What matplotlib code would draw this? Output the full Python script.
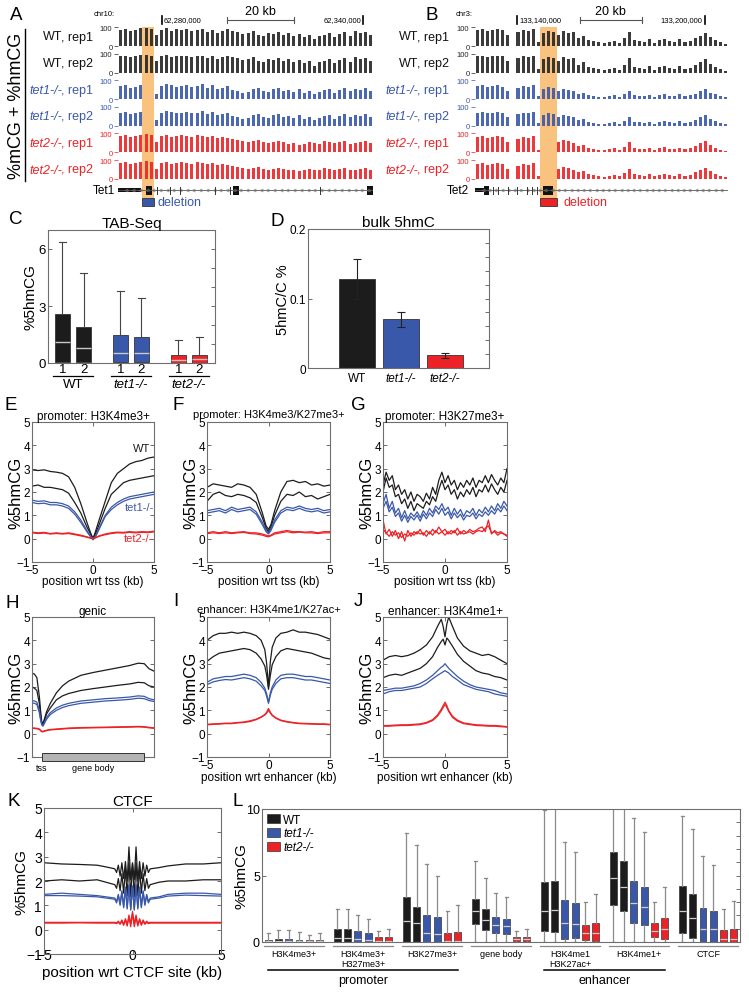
import numpy as np
import matplotlib
matplotlib.use("Agg")
import matplotlib.pyplot as plt
from matplotlib.patches import Rectangle

plt.rcParams['font.family'] = ['Liberation Sans', 'DejaVu Sans']

# --- CONFIGURATION ---
W, H = 749, 995
BLACK = '#1c1c1c'
BLUE = '#3a58aa'
RED = '#ec2227'
ORANGE = '#f9c27f'
SPINE = '#6e6e6e'

# --- A/B: browser tracks (%mCG + %hmCG, 50 bins per locus) ---
tet1_locus = (62267.0, 62343.0)
tet1_wt = [85, 90, 80, 85, 95, 95, 90, 60, 85, 95, 80, 90, 85, 90, 80, 85, 90, 75, 85, 70,
           80, 90, 80, 75, 65, 70, 80, 60, 55, 70, 65, 75, 60, 70, 55, 65, 50, 60, 35, 55,
           60, 70, 50, 65, 75, 55, 80, 70, 75, 60]
tet1_ko1 = [70, 75, 60, 65, 75, 0, 0, 30, 70, 80, 75, 65, 70, 75, 65, 70, 80, 60, 75, 55,
            60, 70, 50, 45, 35, 40, 55, 60, 45, 40, 55, 60, 45, 50, 40, 55, 35, 45, 30, 40,
            50, 55, 35, 50, 60, 45, 55, 50, 60, 45]
tet1_ko2 = [85, 90, 80, 85, 90, 95, 90, 55, 85, 90, 80, 85, 90, 85, 80, 90, 85, 80, 85, 75,
            80, 75, 70, 65, 60, 55, 60, 65, 55, 50, 55, 60, 55, 45, 50, 40, 45, 55, 50, 45,
            60, 55, 50, 55, 60, 45, 50, 55, 60, 50]
tet1_highlight = (62274.2, 62277.6)
tet1_utr = (62267.0, 62274.0)
tet1_exons = [(62275.3, 1.8), (62301.3, 1.8), (62341.2, 1.8)]
tet1_exon_ticks = [62278.6, 62282.5, 62285.5, 62295.9, 62300.4, 62327.2]
tet1_marks = [62280, 62340]
tet1_scale = (62299.5, 62319.5)

tet2_locus = (133126.6, 133207.4)
tet2_wt = [85, 90, 80, 85, 90, 85, 60, 0, 75, 85, 80, 90, 20, 70, 80, 75, 60, 80, 70, 75,
           40, 55, 30, 25, 20, 15, 20, 25, 15, 40, 75, 30, 25, 20, 35, 15, 30, 35, 25, 20,
           35, 20, 25, 40, 55, 70, 45, 30, 20, 10]
tet2_ko1 = [70, 75, 65, 70, 75, 65, 45, 0, 60, 70, 65, 75, 15, 55, 65, 60, 45, 55, 50, 45,
            30, 35, 20, 15, 12, 10, 15, 20, 12, 25, 45, 20, 18, 15, 22, 12, 20, 25, 18, 15,
            25, 15, 20, 30, 45, 55, 35, 25, 15, 10]
tet2_ko2 = [80, 85, 75, 80, 85, 80, 55, 0, 70, 80, 75, 85, 15, 0, 0, 0, 55, 65, 60, 50,
            35, 40, 25, 20, 15, 12, 18, 22, 15, 30, 55, 25, 20, 18, 25, 15, 22, 28, 20, 18,
            25, 18, 22, 35, 50, 60, 40, 25, 15, 10]
tet2_highlight = (133147.4, 133152.8)
tet2_utr = (133126.6, 133129.8)
tet2_exons = [(133129.5, 1.6), (133148.3, 3.2)]
tet2_exon_ticks = [133132.4, 133134.0, 133137.0, 133140.0, 133143.2, 133144.8, 133146.4]
tet2_marks = [133140, 133200]
tet2_scale = (133160, 133180)

track_labels = [("WT", ", rep1"), ("WT", ", rep2"), ("tet1-/-", ", rep1"),
                ("tet1-/-", ", rep2"), ("tet2-/-", ", rep1"), ("tet2-/-", ", rep2")]

# --- C: TAB-Seq boxes ---
tab_groups = ["WT", "tet1-/-", "tet2-/-"]
tab_q1 = [0.05, 0.05, 0.03, 0.03, 0.0, 0.0]
tab_med = [1.1, 0.8, 0.55, 0.55, 0.15, 0.2]
tab_q3 = [2.6, 1.9, 1.45, 1.35, 0.4, 0.4]
tab_whi = [6.35, 4.75, 3.8, 3.4, 1.2, 1.35]

# --- D: bulk 5hmC ---
bulk_labels = ["WT", "tet1-/-", "tet2-/-"]
bulk_mean = [0.128, 0.070, 0.018]
bulk_err = [0.029, 0.011, 0.004]

# --- E/F/I/J: profiles around tss / enhancer ---
tss_pos = [-5, -4.5, -4, -3.5, -3, -2.5, -2, -1.5, -1, -0.5, -0.2, 0, 0.2, 0.5,
           1, 1.5, 2, 2.5, 3, 3.5, 4, 4.5, 5]
e_wt1 = [2.95, 2.92, 2.95, 2.88, 2.85, 2.8, 2.65, 2.2, 1.5, 0.7, 0.25, 0.0, 0.3, 0.8, 1.6, 2.4, 2.8, 3.0, 3.2, 3.3, 3.35, 3.45, 3.5]
e_wt2 = [2.25, 2.3, 2.2, 2.2, 2.15, 2.1, 1.95, 1.55, 1.1, 0.5, 0.2, 0.0, 0.2, 0.6, 1.3, 1.9, 2.15, 2.4, 2.5, 2.55, 2.6, 2.65, 2.7]
e_tet1a = [1.65, 1.6, 1.62, 1.55, 1.55, 1.5, 1.4, 1.15, 0.8, 0.35, 0.1, -0.03, 0.1, 0.45, 1.0, 1.35, 1.55, 1.7, 1.8, 1.85, 1.9, 1.95, 2.0]
e_tet1b = [1.55, 1.5, 1.52, 1.45, 1.45, 1.4, 1.3, 1.05, 0.7, 0.3, 0.08, -0.05, 0.08, 0.4, 0.95, 1.25, 1.45, 1.6, 1.7, 1.75, 1.8, 1.85, 1.9]
e_tet2a = [0.28, 0.25, 0.27, 0.22, 0.25, 0.22, 0.25, 0.2, 0.15, 0.08, 0.03, 0.02, 0.05, 0.12, 0.2, 0.25, 0.28, 0.27, 0.3, 0.28, 0.3, 0.29, 0.32]
e_tet2b = [0.25, 0.22, 0.24, 0.2, 0.22, 0.2, 0.22, 0.17, 0.12, 0.06, 0.02, 0.0, 0.03, 0.1, 0.17, 0.22, 0.25, 0.24, 0.27, 0.25, 0.27, 0.26, 0.29]

f_wt1 = [2.2, 2.35, 2.3, 2.25, 2.2, 2.35, 2.3, 2.2, 1.9, 1.1, 0.55, 0.4, 0.6, 1.2, 2.0, 2.45, 2.5, 2.4, 2.45, 2.3, 2.35, 2.25, 2.3]
f_wt2 = [1.6, 1.9, 2.0, 1.85, 1.8, 1.9, 1.85, 1.75, 1.55, 0.9, 0.45, 0.3, 0.5, 1.0, 1.6, 1.9, 1.85, 2.0, 1.8, 1.85, 1.7, 1.8, 1.9]
f_tet1a = [1.2, 1.25, 1.3, 1.2, 1.35, 1.25, 1.3, 1.35, 1.15, 0.7, 0.35, 0.25, 0.4, 0.8, 1.2, 1.35, 1.3, 1.4, 1.3, 1.25, 1.3, 1.2, 1.25]
f_tet1b = [1.1, 1.15, 1.2, 1.1, 1.25, 1.15, 1.2, 1.25, 1.05, 0.6, 0.3, 0.2, 0.35, 0.7, 1.1, 1.25, 1.2, 1.3, 1.2, 1.15, 1.2, 1.1, 1.15]
f_tet2a = [0.25, 0.3, 0.25, 0.3, 0.25, 0.28, 0.3, 0.25, 0.25, 0.2, 0.15, 0.12, 0.15, 0.25, 0.3, 0.35, 0.3, 0.3, 0.28, 0.3, 0.25, 0.3, 0.3]
f_tet2b = [0.22, 0.25, 0.22, 0.25, 0.22, 0.25, 0.27, 0.22, 0.2, 0.15, 0.1, 0.08, 0.12, 0.2, 0.25, 0.3, 0.25, 0.28, 0.25, 0.25, 0.22, 0.25, 0.25]

g_pos = [-5, -4.75, -4.5, -4.25, -4, -3.75, -3.5, -3.25, -3, -2.75, -2.5, -2.25, -2, -1.75,
         -1.5, -1.25, -1, -0.75, -0.5, -0.25, 0, 0.25, 0.5, 0.75, 1, 1.25, 1.5, 1.75, 2,
         2.25, 2.5, 2.75, 3, 3.25, 3.5, 3.75, 4, 4.25, 4.5, 4.75, 5]
g_wt1 = [2.3, 2.85, 2.5, 2.7, 2.1, 2.3, 1.9, 2.1, 1.7, 2.0, 1.6, 1.9, 1.8, 1.6, 1.95, 1.7, 2.2, 1.9, 2.5, 2.85,
         2.4, 2.7, 2.3, 2.5, 2.1, 2.4, 2.2, 2.5, 2.3, 2.6, 2.2, 2.5, 2.4, 2.7, 2.4, 2.75, 2.5, 2.3, 2.6, 2.4, 3.0]
g_wt2 = [2.0, 2.6, 2.2, 2.3, 1.8, 1.9, 1.5, 1.7, 1.3, 1.6, 1.2, 1.5, 1.4, 1.3, 1.6, 1.45, 1.8, 1.6, 2.1, 2.5,
         2.1, 2.3, 1.9, 2.1, 1.7, 2.0, 1.8, 2.1, 1.9, 2.2, 1.8, 2.1, 2.0, 2.3, 2.0, 2.35, 2.1, 1.9, 2.2, 2.0, 2.5]
g_tet1a = [1.5, 1.9, 1.3, 1.6, 1.1, 1.3, 0.9, 1.2, 0.85, 1.1, 0.95, 1.15, 0.9, 1.2, 1.0, 1.3, 1.1, 1.4, 1.25, 1.5,
           1.2, 1.35, 1.0, 1.3, 1.05, 1.25, 0.95, 1.2, 1.1, 1.3, 1.0, 1.25, 1.1, 1.35, 1.15, 1.4, 1.2, 1.5, 1.3, 1.6, 1.4]
g_tet1b = [1.3, 1.6, 1.15, 1.35, 0.95, 1.1, 0.75, 1.0, 0.7, 0.95, 0.8, 1.0, 0.75, 1.05, 0.85, 1.1, 0.95, 1.25, 1.05, 1.3,
           1.0, 1.15, 0.85, 1.1, 0.9, 1.05, 0.8, 1.0, 0.95, 1.1, 0.85, 1.05, 0.95, 1.15, 1.0, 1.2, 1.05, 1.3, 1.15, 1.4, 1.2]
g_tet2a = [0.8, 0.2, 0.4, 0.1, 0.35, 0.0, 0.3, -0.1, 0.35, 0.1, 0.3, 0.2, 0.4, 0.15, 0.35, 0.2, 0.4, 0.25, 0.5, 0.3,
           0.4, 0.2, 0.35, 0.25, 0.45, 0.2, 0.35, 0.25, 0.4, 0.3, 0.35, 0.45, 0.5, 0.3, 0.8, 0.2, 0.35, 0.25, 0.3, 0.2, 0.15]
g_tet2b = [0.4, 0.25, 0.1, 0.3, 0.15, 0.25, 0.05, 0.2, 0.1, 0.25, 0.15, 0.3, 0.2, 0.25, 0.1, 0.3, 0.15, 0.35, 0.2, 0.3,
           0.15, 0.3, 0.2, 0.35, 0.15, 0.3, 0.2, 0.25, 0.3, 0.2, 0.3, 0.35, 0.3, 0.45, 0.55, 0.25, 0.3, 0.15, 0.25, 0.2, 0.1]

# H: genic, x is fraction of the metagene (tss at 0.082, gene end at 0.915)
gene_pos = [0, 0.02, 0.04, 0.06, 0.07, 0.08, 0.09, 0.1, 0.12, 0.15, 0.2, 0.25, 0.3, 0.4,
            0.5, 0.6, 0.7, 0.8, 0.87, 0.92, 0.96, 1.0]
gene_body = (0.082, 0.915)
h_wt1 = [2.6, 2.55, 2.4, 1.6, 1.0, 0.5, 0.45, 0.6, 0.95, 1.3, 1.75, 2.05, 2.25, 2.5, 2.62, 2.72, 2.82, 2.92, 3.02, 3.0, 2.78, 2.68]
h_wt2 = [2.0, 1.95, 1.85, 1.3, 0.8, 0.45, 0.4, 0.55, 0.85, 1.1, 1.45, 1.62, 1.72, 1.85, 1.93, 2.0, 2.07, 2.13, 2.2, 2.18, 2.05, 2.0]
h_tet1a = [1.42, 1.4, 1.35, 1.0, 0.65, 0.4, 0.35, 0.45, 0.7, 0.9, 1.1, 1.22, 1.3, 1.4, 1.45, 1.5, 1.53, 1.57, 1.62, 1.6, 1.5, 1.45]
h_tet1b = [1.32, 1.3, 1.25, 0.9, 0.6, 0.37, 0.32, 0.42, 0.62, 0.82, 1.0, 1.12, 1.2, 1.3, 1.35, 1.4, 1.43, 1.47, 1.52, 1.5, 1.42, 1.38]
h_tet2a = [0.25, 0.24, 0.23, 0.2, 0.15, 0.1, 0.1, 0.12, 0.15, 0.18, 0.2, 0.22, 0.24, 0.26, 0.27, 0.28, 0.29, 0.3, 0.31, 0.3, 0.27, 0.25]
h_tet2b = [0.23, 0.22, 0.21, 0.18, 0.13, 0.08, 0.08, 0.1, 0.13, 0.16, 0.18, 0.2, 0.22, 0.24, 0.25, 0.26, 0.27, 0.28, 0.29, 0.28, 0.25, 0.23]

enh_pos = [-5, -4.5, -4, -3.5, -3, -2.5, -2, -1.5, -1, -0.6, -0.3, -0.15, 0, 0.15, 0.3,
           0.6, 1, 1.5, 2, 2.5, 3, 3.5, 4, 4.5, 5]
i_wt1 = [4.0, 4.2, 4.3, 4.3, 4.35, 4.3, 4.35, 4.3, 4.2, 4.0, 3.6, 3.0, 2.0, 3.1, 3.7, 4.1, 4.3, 4.35, 4.45, 4.35, 4.35, 4.3, 4.25, 4.15, 4.05]
i_wt2 = [3.1, 3.3, 3.45, 3.5, 3.55, 3.6, 3.65, 3.6, 3.45, 3.2, 2.9, 2.5, 1.9, 2.5, 2.95, 3.3, 3.55, 3.65, 3.6, 3.55, 3.5, 3.45, 3.35, 3.25, 3.2]
i_tet1a = [2.2, 2.35, 2.4, 2.45, 2.45, 2.5, 2.55, 2.5, 2.4, 2.2, 1.95, 1.7, 1.35, 1.75, 2.0, 2.3, 2.5, 2.55, 2.55, 2.5, 2.45, 2.45, 2.4, 2.35, 2.3]
i_tet1b = [2.1, 2.22, 2.28, 2.32, 2.3, 2.35, 2.4, 2.35, 2.25, 2.05, 1.85, 1.6, 1.3, 1.65, 1.9, 2.15, 2.35, 2.4, 2.4, 2.35, 2.3, 2.3, 2.25, 2.2, 2.15]
i_tet2a = [0.4, 0.42, 0.43, 0.45, 0.45, 0.48, 0.5, 0.55, 0.62, 0.72, 0.82, 0.92, 1.08, 0.92, 0.8, 0.68, 0.58, 0.52, 0.48, 0.45, 0.44, 0.43, 0.42, 0.42, 0.4]
i_tet2b = [0.38, 0.4, 0.41, 0.43, 0.43, 0.46, 0.48, 0.52, 0.6, 0.7, 0.8, 0.88, 1.0, 0.88, 0.78, 0.66, 0.56, 0.5, 0.46, 0.43, 0.42, 0.41, 0.4, 0.4, 0.38]

j_wt1 = [3.15, 3.3, 3.35, 3.3, 3.35, 3.45, 3.6, 3.8, 4.15, 4.6, 4.9, 4.6, 4.15, 4.7, 5.0, 4.6, 4.1, 3.75, 3.55, 3.45, 3.35, 3.4, 3.3, 3.15, 3.0]
j_wt2 = [2.4, 2.5, 2.55, 2.5, 2.6, 2.7, 2.8, 3.0, 3.3, 3.7, 3.95, 4.05, 3.8, 4.1, 4.0, 3.75, 3.4, 3.1, 2.9, 2.7, 2.6, 2.55, 2.45, 2.4, 2.3]
j_tet1a = [1.85, 1.9, 1.95, 1.95, 2.0, 2.05, 2.15, 2.3, 2.5, 2.7, 2.85, 2.9, 3.0, 2.9, 2.8, 2.65, 2.45, 2.25, 2.1, 2.0, 1.95, 1.9, 1.85, 1.75, 1.7]
j_tet1b = [1.7, 1.8, 1.85, 1.85, 1.9, 1.95, 2.0, 2.15, 2.35, 2.5, 2.6, 2.65, 2.7, 2.65, 2.6, 2.45, 2.3, 2.1, 2.0, 1.9, 1.85, 1.8, 1.7, 1.65, 1.6]
j_tet2a = [0.35, 0.35, 0.37, 0.38, 0.38, 0.4, 0.42, 0.48, 0.6, 0.8, 1.05, 1.2, 1.35, 1.2, 1.0, 0.75, 0.58, 0.46, 0.42, 0.38, 0.37, 0.35, 0.35, 0.33, 0.3]
j_tet2b = [0.32, 0.32, 0.34, 0.35, 0.35, 0.37, 0.39, 0.45, 0.56, 0.75, 0.98, 1.12, 1.25, 1.12, 0.95, 0.7, 0.54, 0.43, 0.39, 0.35, 0.34, 0.32, 0.32, 0.3, 0.28]

# K: CTCF
ctcf_pos = [-5, -4, -3, -2, -1.5, -1.0, -0.9, -0.8, -0.7, -0.6, -0.5, -0.4, -0.3, -0.2, -0.1, 0,
            0.1, 0.2, 0.3, 0.4, 0.5, 0.6, 0.7, 0.8, 0.9, 1.0, 1.5, 2, 3, 4, 5]
k_wt1 = [2.75, 2.7, 2.68, 2.65, 2.58, 2.5, 2.35, 2.65, 2.2, 2.75, 2.1, 2.8, 2.0, 3.4, 2.05, 2.75,
         2.05, 3.4, 2.0, 2.8, 2.1, 2.75, 2.2, 2.65, 2.35, 2.5, 2.55, 2.62, 2.7, 2.7, 2.75]
k_wt2 = [2.0, 2.05, 2.0, 2.05, 1.95, 1.85, 1.7, 2.1, 1.6, 2.3, 1.5, 2.5, 1.4, 2.75, 1.35, 2.7,
         1.35, 2.75, 1.4, 2.5, 1.5, 2.3, 1.6, 2.1, 1.7, 1.85, 1.95, 2.0, 2.0, 2.05, 2.05]
k_tet1a = [1.45, 1.5, 1.45, 1.4, 1.35, 1.3, 1.15, 1.45, 1.05, 1.6, 0.95, 1.75, 0.9, 1.85, 0.85, 1.8,
           0.85, 1.85, 0.9, 1.75, 0.95, 1.6, 1.05, 1.45, 1.15, 1.3, 1.35, 1.45, 1.5, 1.5, 1.45]
k_tet1b = [1.4, 1.4, 1.38, 1.35, 1.3, 1.25, 1.1, 1.4, 1.0, 1.55, 0.9, 1.7, 0.85, 1.8, 0.8, 1.75,
           0.8, 1.8, 0.85, 1.7, 0.9, 1.55, 1.0, 1.4, 1.1, 1.25, 1.3, 1.38, 1.42, 1.4, 1.38]
k_tet2a = [0.3, 0.3, 0.3, 0.3, 0.3, 0.3, 0.28, 0.35, 0.25, 0.4, 0.22, 0.45, 0.2, 0.6, 0.25, 0.75,
           0.25, 0.6, 0.2, 0.45, 0.22, 0.4, 0.25, 0.35, 0.28, 0.3, 0.3, 0.3, 0.3, 0.3, 0.3]
k_tet2b = [0.27, 0.27, 0.28, 0.27, 0.27, 0.27, 0.25, 0.3, 0.22, 0.35, 0.18, 0.4, 0.15, 0.5, 0.12, 0.65,
           0.12, 0.5, 0.15, 0.4, 0.18, 0.35, 0.22, 0.3, 0.25, 0.27, 0.27, 0.27, 0.27, 0.27, 0.27]

# --- L: boxplots per region class (rows = region, cols = WT1, WT2, tet1 x2, tet2 x2) ---
l_groups = ["H3K4me3+", "H3K4me3+\nH327me3+", "H3K27me3+", "gene body",
            "H3K4me1\nH3K27ac+", "H3K4me1+", "CTCF"]
l_q1 = [[0, 0, 0, 0, 0, 0],
        [0, 0, 0, 0, 0, 0],
        [0, 0, 0, 0, 0, 0],
        [1.35, 0.9, 0.65, 0.6, 0.05, 0.05],
        [0.85, 0.75, 0.2, 0.3, 0.15, 0.1],
        [2.8, 2.35, 1.4, 1.3, 0.4, 0.25],
        [0.7, 0.3, 0.0, 0.0, 0.0, 0.0]]
l_med = [[0.05, 0.05, 0.05, 0.05, 0.05, 0.05],
         [0.3, 0.3, 0.2, 0.15, 0.05, 0.05],
         [1.6, 1.4, 0.7, 0.6, 0.05, 0.05],
         [2.3, 1.65, 1.25, 1.2, 0.25, 0.25],
         [2.35, 2.4, 1.4, 1.35, 0.65, 0.65],
         [4.8, 4.15, 2.9, 2.6, 0.85, 0.95],
         [2.3, 1.8, 1.0, 1.0, 0.25, 0.25]]
l_q3 = [[0.15, 0.2, 0.2, 0.18, 0.15, 0.18],
        [1.0, 1.0, 0.8, 0.7, 0.35, 0.35],
        [3.35, 2.65, 2.05, 1.9, 0.7, 0.75],
        [3.25, 2.45, 1.9, 1.7, 0.35, 0.4],
        [4.5, 4.55, 3.15, 2.9, 1.3, 1.45],
        [6.8, 6.1, 4.6, 4.1, 1.4, 1.8],
        [4.2, 3.6, 2.55, 2.35, 0.9, 1.0]]
l_whi = [[0.65, 0.9, 0.9, 0.75, 0.55, 0.7],
         [2.5, 2.5, 2.0, 1.75, 0.83, 1.0],
         [8.2, 7.3, 5.9, 5.0, 2.3, 2.8],
         [6.1, 4.8, 3.7, 3.35, 0.85, 0.95],
         [9.9, 10.5, 7.5, 6.75, 3.0, 3.6],
         [10.5, 10.5, 9.3, 8.25, 3.0, 4.1],
         [9.5, 8.5, 6.5, 5.8, 2.45, 3.1]]
l_legend = ["WT", "tet1-/-", "tet2-/-"]

fig = plt.figure(figsize=(W / 100, H / 100), dpi=100)


def px_axes(box, **kw):
    x0, y0, x1, y1 = box
    return fig.add_axes([x0 / W, 1 - y1 / H, (x1 - x0) / W, (y1 - y0) / H], **kw)


def matlab(ax, size=8, top=True, pad=1.5):
    for s in ax.spines.values():
        s.set_color(SPINE)
        s.set_linewidth(0.8)
    ax.tick_params(which='both', direction='in', top=top, right=True, length=3,
                   width=0.6, color='#555555', labelsize=size, pad=pad)


def ylab(ax, box, text, right_px, size):
    ax.set_ylabel(text, fontsize=size)
    ax.yaxis.set_label_coords((right_px - box[0]) / (box[2] - box[0]), 0.5)


def xlab(ax, box, text, top_px, size):
    ax.set_xlabel(text, fontsize=size)
    ax.xaxis.set_label_coords(0.5, -(top_px - box[3]) / (box[3] - box[1]))


# ---------------- A / B ----------------
def draw_locus(x0, x1, locus, tracks, highlight, utr, exons, ticks, marks, scale, del_color):
    start, end = locus
    step = (end - start) / len(tracks[0][0])
    bg = px_axes((x0, 28, x1, 201))
    bg.set_xlim(start, end)
    bg.axvspan(*highlight, color=ORANGE, lw=0)
    bg.axis('off')
    for i, (vals, col) in enumerate(tracks):
        top = 28 + 26.6 * i
        ax = px_axes((x0, top, x1, top + 19), facecolor='none')
        pos = start + step * (np.arange(len(vals)) + 0.5)
        ax.bar(pos, vals, width=step * 0.6, color=col, lw=0, alpha=0.9)
        ax.set_xlim(start, end)
        ax.set_ylim(0, 100)
        for s in ax.spines.values():
            s.set_visible(False)
        ax.set_xticks([])
        ax.set_yticks([0, 100])
        ax.tick_params(axis='y', length=3, width=0.5, color=col, labelcolor=col,
                       labelsize=5.5, pad=1)
    # header: coordinates and scale bar
    hd = px_axes((x0, 8, x1, 26), facecolor='none')
    hd.set_xlim(start, end)
    hd.set_ylim(0, 1)
    hd.axis('off')
    hd.plot([marks[0]] * 2, [0.05, 0.5], color='k', lw=1.2)
    hd.text(marks[0] + step * 0.4, 0.28, f"{marks[0] * 1000:,}", fontsize=5.5, va='center')
    hd.plot([marks[1]] * 2, [0.05, 0.5], color='k', lw=1.2)
    hd.text(marks[1] - step * 0.4, 0.28, f"{marks[1] * 1000:,}", fontsize=5.5, va='center', ha='right')
    hd.plot(scale, [0.28, 0.28], color='#555555', lw=0.8)
    for s in scale:
        hd.plot([s, s], [0.12, 0.44], color='#555555', lw=0.8)
    hd.text(sum(scale) / 2, 0.78, "20 kb", fontsize=9, ha='center', va='center')
    # gene model + deletion
    gm = px_axes((x0, 184, x1, 210), facecolor='none')
    gm.set_xlim(start, end)
    gm.set_ylim(-2.6, 1.0)
    gm.axis('off')
    gm.plot([start, end], [0, 0], color='#555555', lw=0.6)
    chev = np.arange(start + 2.5, end - 1, 2.0)
    gm.plot(chev, np.zeros(len(chev)), ls='none', marker='<', ms=2.2, mfc='none',
            mec='#777777', mew=0.4)
    gm.add_patch(Rectangle((utr[0], -0.25), utr[1] - utr[0], 0.5, color='#111111', lw=0))
    for a, w in exons:
        gm.add_patch(Rectangle((a, -0.6), w, 1.2, color='#111111', lw=0))
    for t in ticks:
        gm.plot([t, t], [-0.5, 0.5], color='#333333', lw=0.7)
    gm.add_patch(Rectangle((highlight[0], -2.19), highlight[1] - highlight[0], 1.1,
                           facecolor=del_color, edgecolor='#333333', lw=0.6))


draw_locus(118, 373, tet1_locus,
           [(tet1_wt, '#262626'), (tet1_wt, '#262626'), (tet1_ko1, BLUE), (tet1_ko1, BLUE),
            (tet1_ko2, RED), (tet1_ko2, RED)],
           tet1_highlight, tet1_utr, tet1_exons, tet1_exon_ticks, tet1_marks, tet1_scale, BLUE)
draw_locus(475, 728, tet2_locus,
           [(tet2_wt, '#262626'), (tet2_wt, '#262626'), (tet2_ko1, BLUE), (tet2_ko1, BLUE),
            (tet2_ko2, RED), (tet2_ko2, RED)],
           tet2_highlight, tet2_utr, tet2_exons, tet2_exon_ticks, tet2_marks, tet2_scale, RED)

# ---------------- C ----------------
box_c = (48, 231, 215, 364)
ax = px_axes(box_c)
c_pos = [0, 1, 2.76, 3.76, 5.52, 6.52]
c_cols = [BLACK, BLACK, BLUE, BLUE, RED, RED]
stats = [dict(med=m, q1=a, q3=b, whislo=a, whishi=w, fliers=[])
         for a, m, b, w in zip(tab_q1, tab_med, tab_q3, tab_whi)]
res = ax.bxp(stats, positions=c_pos, widths=0.72, patch_artist=True, showfliers=False,
             capwidths=0.32, whiskerprops=dict(color='#444444', lw=0.8),
             capprops=dict(color='#444444', lw=0.8),
             medianprops=dict(color='#c8c8c8', lw=1.0),
             boxprops=dict(edgecolor='#333333', lw=0.6))
for p, c in zip(res['boxes'], c_cols):
    p.set_facecolor(c)
ax.set_xlim(-0.69, 7.26)
ax.set_ylim(0, 7)
ax.set_yticks([0, 3, 6])
ax.set_yticks(range(1, 7), minor=True)
ax.set_xticks(c_pos)
ax.set_xticklabels(["1", "2"] * 3)
matlab(ax, size=9.5, top=False)
ax.tick_params(axis='y', which='minor', left=False)
ax.tick_params(axis='x', length=0, pad=0)
ax.set_title("TAB-Seq", fontsize=11, pad=1)
ylab(ax, box_c, "%5hmCG", 37, 11)
xt = ax.get_xaxis_transform()
for g, name in enumerate(tab_groups):
    a, b = c_pos[2 * g], c_pos[2 * g + 1]
    ax.plot([a - 0.45, b + 0.45], [-0.1, -0.1], color='k', lw=0.9, transform=xt, clip_on=False)
    ax.text((a + b) / 2, -0.115, name, transform=xt, ha='center', va='top', fontsize=9.5,
            style='normal' if g == 0 else 'italic')

# ---------------- D ----------------
box_d = (308, 230, 489, 369)
ax = px_axes(box_d)
ax.bar(range(3), bulk_mean, width=0.82, color=[BLACK, BLUE, RED], edgecolor='#333333', lw=0.6,
       yerr=bulk_err, capsize=3, error_kw=dict(ecolor='#222222', elinewidth=0.8, capthick=0.8))
ax.set_xlim(-1.11, 3.0)
ax.set_ylim(0, 0.2)
ax.set_yticks([0, 0.1, 0.2])
ax.set_yticklabels(["0", "0.1", "0.2"])
ax.set_yticks(np.arange(0.02, 0.2, 0.02), minor=True)
ax.set_xticks(range(3))
ax.set_xticklabels(bulk_labels)
matlab(ax, size=8.5, top=False)
ax.tick_params(axis='y', which='minor', left=False)
ax.tick_params(axis='x', length=0, pad=3)
for lbl in ax.get_xticklabels()[1:]:
    lbl.set_style('italic')
ax.set_title("bulk 5hmC", fontsize=11, pad=2)
ylab(ax, box_d, "5hmC/C %", 290, 10.5)


# ---------------- E-K profiles ----------------
def profile(box, x, curves, title, xlabel, xlab_top, xlim=(-5, 5), tsize=8, lsize=8.5,
            ysize=12, ticksize=8.5, xticks=(-5, 0, 5), ygap=9, tpad=3.5):
    ax = px_axes(box)
    for ys, col in curves:
        ax.plot(x, ys, color=col, lw=0.9)
    ax.set_xlim(*xlim)
    ax.set_ylim(-1, 5)
    ax.set_yticks(range(-1, 6))
    ax.set_xticks(xticks)
    matlab(ax, size=ticksize)
    ax.set_title(title, fontsize=tsize, pad=tpad)
    if xlabel:
        xlab(ax, box, xlabel, xlab_top, lsize)
    ylab(ax, box, "%5hmCG", box[0] - ygap, ysize)
    return ax


def six(a, b, c, d, e, f):
    return [(a, BLACK), (b, BLACK), (c, BLUE), (d, BLUE), (e, RED), (f, RED)]


ax = profile((32, 423, 154, 563), tss_pos, six(e_wt1, e_wt2, e_tet1a, e_tet1b, e_tet2a, e_tet2b),
             "promoter: H3K4me3+", "position wrt tss (kb)", 576, tsize=8.5, tpad=2.5)
ax.text(4.0, 3.9, "WT", color=BLACK, fontsize=8, ha='center', va='center')
ax.text(3.8, 1.35, "tet1-/-", color=BLUE, fontsize=8, ha='center', va='center')
ax.text(3.7, 0.03, "tet2-/-", color=RED, fontsize=8, ha='center', va='center')

profile((207, 423, 330, 563), tss_pos, six(f_wt1, f_wt2, f_tet1a, f_tet1b, f_tet2a, f_tet2b),
        "promoter: H3K4me3/K27me3+", "position wrt tss (kb)", 576)
profile((383, 423, 507, 563), g_pos, six(g_wt1, g_wt2, g_tet1a, g_tet1b, g_tet2a, g_tet2b),
        "promoter: H3K27me3+", "position wrt tss (kb)", 576, tsize=8.5, tpad=2.5)

ax = profile((32, 618, 154, 758), gene_pos, six(h_wt1, h_wt2, h_tet1a, h_tet1b, h_tet2a, h_tet2b),
             "genic", None, 0, xlim=(0, 1), xticks=[], tsize=8.5, tpad=2.5)
ax.tick_params(axis='x', which='both', top=False, bottom=False)
ax.add_patch(Rectangle((gene_body[0], -1.17), gene_body[1] - gene_body[0], 0.34,
                       facecolor='#b3b3b3', edgecolor='#333333', lw=0.7, clip_on=False, zorder=5))
ax.text(gene_body[0], -1.45, "tss", fontsize=6.5, ha='center', va='center')
ax.text(0.5, -1.45, "gene body", fontsize=6.5, ha='center', va='center')

profile((207, 618, 330, 758), enh_pos, six(i_wt1, i_wt2, i_tet1a, i_tet1b, i_tet2a, i_tet2b),
        "enhancer: H3K4me1/K27ac+", "position wrt enhancer (kb)", 772)
profile((383, 618, 507, 758), enh_pos, six(j_wt1, j_wt2, j_tet1a, j_tet1b, j_tet2a, j_tet2b),
        "enhancer: H3K4me1+", "position wrt enhancer (kb)", 772, tsize=8.5, tpad=2.5)

ax = profile((44, 809, 221, 955), ctcf_pos, six(k_wt1, k_wt2, k_tet1a, k_tet1b, k_tet2a, k_tet2b),
             "CTCF", "position wrt CTCF site (kb)", 966, tsize=11, lsize=11,
             ysize=11, ticksize=10, ygap=16, tpad=2)
ax.tick_params(axis='x', pad=-4)

# ---------------- L ----------------
box_l = (262, 810, 740, 943)
ax = px_axes(box_l)
l_cols = [BLACK, BLACK, BLUE, BLUE, RED, RED]
positions, stats, cols = [], [], []
for g in range(len(l_groups)):
    for i in range(6):
        positions.append(g * 6.7 + i)
        stats.append(dict(med=l_med[g][i], q1=l_q1[g][i], q3=l_q3[g][i], whislo=0.0,
                          whishi=l_whi[g][i], fliers=[]))
        cols.append(l_cols[i])
res = ax.bxp(stats, positions=positions, widths=0.66, patch_artist=True, showfliers=False,
             capwidths=0.3, whiskerprops=dict(color='#8a8a8a', lw=0.9),
             capprops=dict(color='#8a8a8a', lw=0.9),
             medianprops=dict(color='#d0d0d0', lw=0.9),
             boxprops=dict(edgecolor='#333333', lw=0.5))
for p, c in zip(res['boxes'], cols):
    p.set_facecolor(c)
ax.set_xlim(-0.6, 45.8)
ax.set_ylim(0, 10)
ax.set_yticks([0, 5, 10])
ax.set_yticks(range(1, 10), minor=True)
ax.set_xticks([])
matlab(ax, size=9, top=False)
ax.tick_params(axis='y', which='minor', left=False)
ylab(ax, box_l, "%5hmCG", 248, 11)
xt = ax.get_xaxis_transform()
for g, name in enumerate(l_groups):
    a, b = g * 6.7, g * 6.7 + 5
    ax.plot([a - 0.4, b + 0.4], [-0.03, -0.03], color='#8a8a8a', lw=0.9, transform=xt, clip_on=False)
    ax.text((a + b) / 2, -0.05, name, transform=xt, ha='center', va='top', fontsize=6.5,
            linespacing=1.2)
for name, g0, g1 in [("promoter", 0, 2), ("enhancer", 4, 5)]:
    a, b = g0 * 6.7, g1 * 6.7 + 5
    ax.plot([a, b], [-0.21, -0.21], color='k', lw=1.1, transform=xt, clip_on=False)
    ax.text((a + b) / 2, -0.24, name, transform=xt, ha='center', va='top', fontsize=9)
handles = [Rectangle((0, 0), 1, 1, facecolor=c, edgecolor='#333333', lw=0.5)
           for c in [BLACK, BLUE, RED]]
leg = ax.legend(handles, l_legend, loc='upper left', frameon=False, fontsize=8.5,
                handlelength=1.1, handleheight=0.8, handletextpad=0.3, labelspacing=0.15,
                borderaxespad=0.2, borderpad=0.2)
for t in leg.get_texts()[1:]:
    t.set_style('italic')

# ---------------- overlay text ----------------
ov = fig.add_axes([0, 0, 1, 1], facecolor='none')
ov.set_xlim(0, W)
ov.set_ylim(H, 0)
ov.axis('off')

for letter, x, y in [("A", 16, 15), ("B", 432, 15), ("C", 16, 220), ("D", 277, 222),
                     ("E", 11, 405), ("F", 178, 405), ("G", 358, 405),
                     ("H", 12, 603), ("I", 176, 602), ("J", 358, 602),
                     ("K", 14, 802), ("L", 238, 802)]:
    ov.text(x, y, letter, fontsize=13.5, ha='center', va='center')

ov.text(17, 106, "%mCG + %hmCG", fontsize=13, rotation=90, ha='center', va='center')
ov.plot([25, 25], [30, 182], color='k', lw=1)

track_cols = ['#111111', '#111111', BLUE, BLUE, RED, RED]
for right_x in (93, 449):
    for i, ((name, rep), col) in enumerate(zip(track_labels, track_cols)):
        yc = 28 + 26.6 * i + 9.5
        t = ov.text(right_x, yc, rep, ha='right', va='center', color=col, fontsize=9)
        ov.annotate(name, xy=(0, 0), xycoords=t, xytext=(1.2, 0), textcoords='offset points',
                    ha='right', va='bottom', color=col, fontsize=9,
                    style='normal' if name == "WT" else 'italic')

ov.text(115, 15, "chr10:", fontsize=5.5, ha='right', va='center')
ov.text(473, 15, "chr3:", fontsize=5.5, ha='right', va='center')
ov.text(115, 191, "Tet1", fontsize=8.5, ha='right', va='center')
ov.text(469, 191, "Tet2", fontsize=8.5, ha='right', va='center')
ov.text(158, 203, "deletion", fontsize=9, color=BLUE, ha='left', va='center')
ov.text(563, 203, "deletion", fontsize=9, color=RED, ha='left', va='center')

fig.savefig("out.png", dpi=100)
